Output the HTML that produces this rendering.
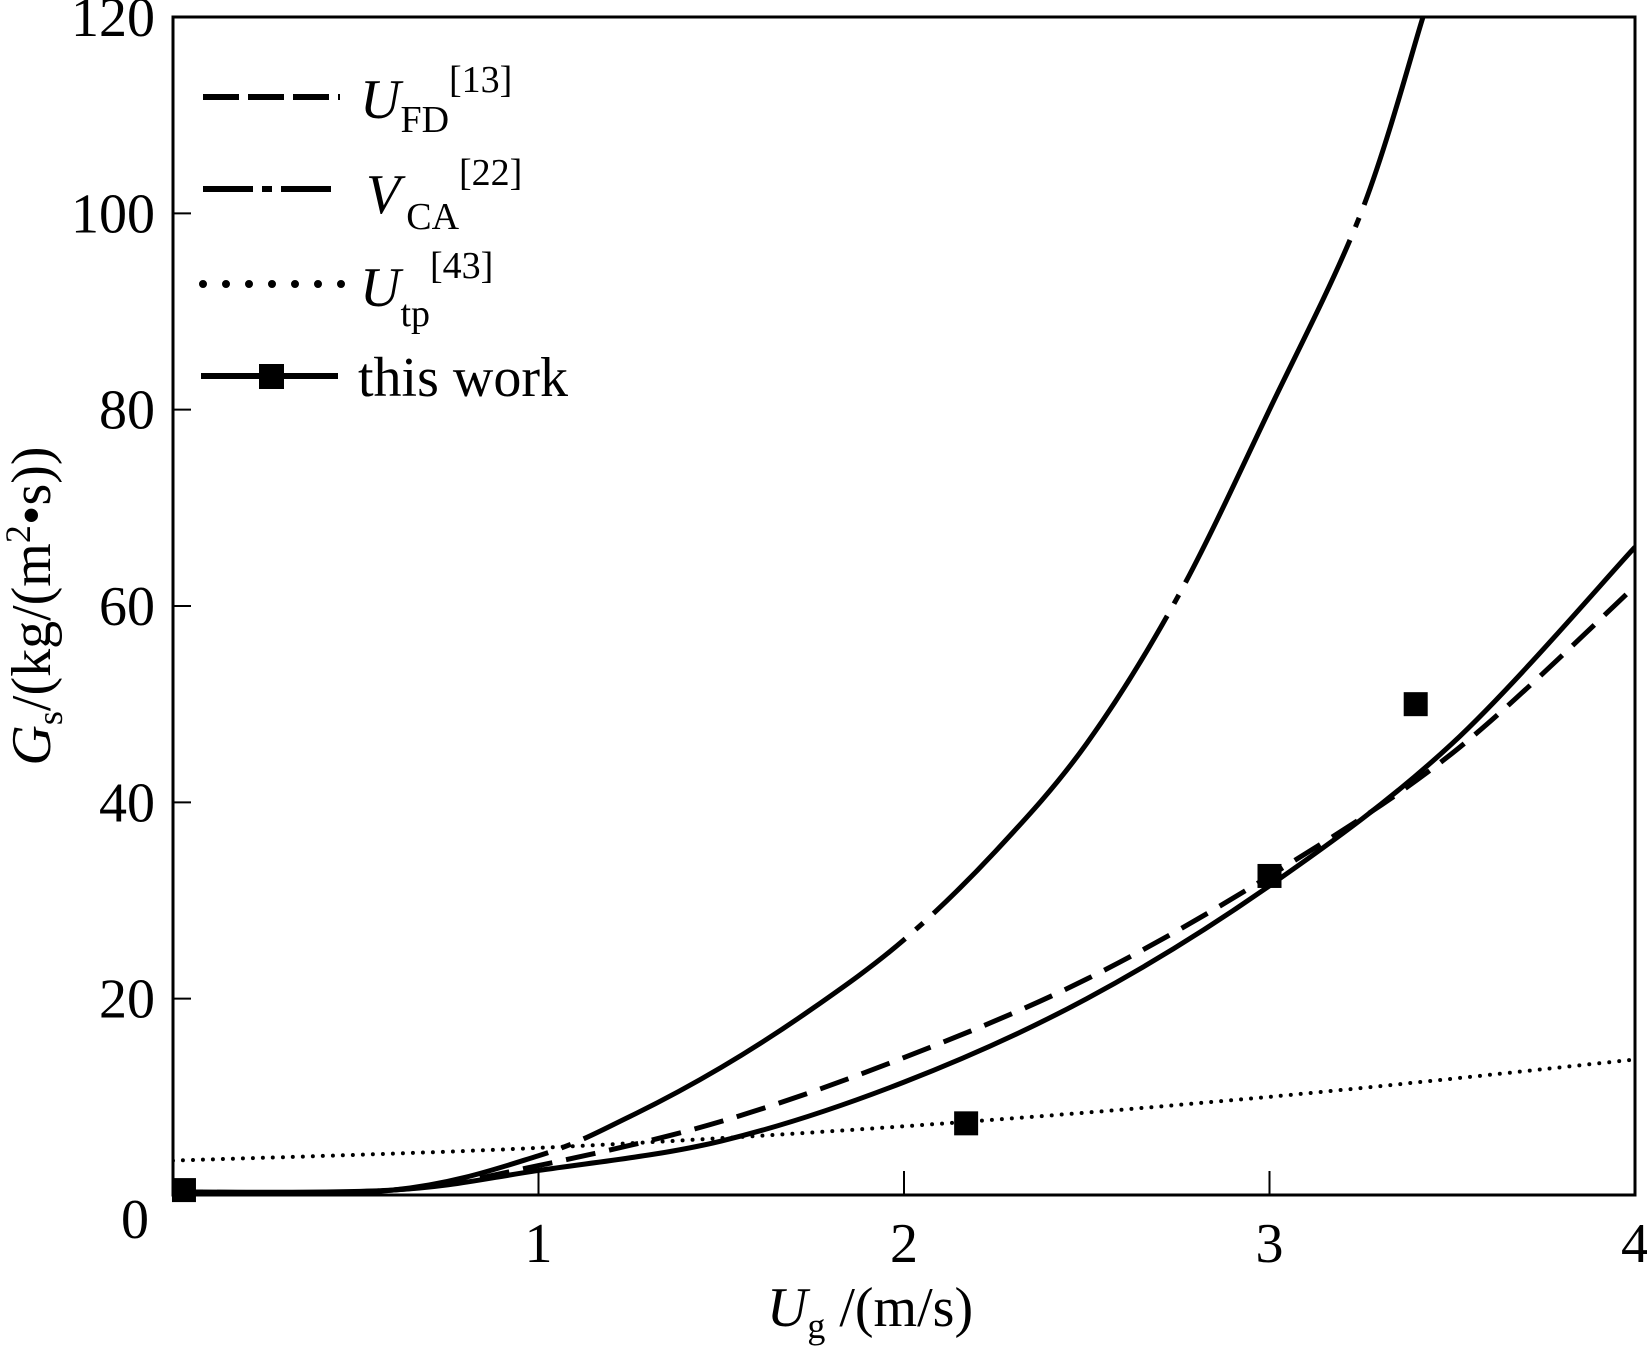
<!DOCTYPE html>
<html><head><meta charset="utf-8"><style>
html,body{margin:0;padding:0;background:#fff;}
svg{display:block;font-family:"Liberation Serif",serif;}
</style></head><body>
<svg id="chart" width="1647" height="1351" viewBox="0 0 1647 1351" xmlns="http://www.w3.org/2000/svg">
<g id="plot"></g>
</svg>
<script>
const xTicks=[0,1,2,3,4];
const yTicks=[0,20,40,60,80,100,120];
const vcaX=[0,0.6,1.0,1.25,1.5,1.75,2.0,2.25,2.5,2.75,3.0,3.25,3.42];
const vcaY=[0.3,0.5,4,8,13,19,26,35,46,61,80,100,120];
const ufdX=[0,0.6,1.0,1.5,2.0,2.5,3.0,3.5,4.0];
const ufdY=[0.3,0.5,3,7.5,14,22,32.5,45,62];
const workX=[0,0.6,1.0,1.5,2.0,2.5,3.0,3.5,4.0];
const workY=[0.3,0.5,2.5,5.5,11.5,20,31.5,46,66];
const tpX=[0,1,2,3,4];
const tpY=[3.5,4.8,7,10,13.8];
const markX=[0.03,2.17,3.0,3.4];
const markY=[0.5,7.3,32.5,50];

const L=173,R=1635,T=17,B=1195;
const sx=v=>L+(v-0)/(4-0)*(R-L);
const sy=v=>B-(v-0)/(120-0)*(B-T);
const NS="http://www.w3.org/2000/svg";
const svg=document.getElementById('chart');
function mk(tag,attrs,parent){const e=document.createElementNS(NS,tag);for(const k in attrs)e.setAttribute(k,attrs[k]);(parent||svg).appendChild(e);return e;}
function pathFrom(xs,ys){
  const p=xs.map((x,i)=>[sx(x),sy(ys[i])]);
  let d=`M${p[0][0]},${p[0][1]}`;
  for(let i=0;i<p.length-1;i++){
    const p0=p[i-1]||p[i],p1=p[i],p2=p[i+1],p3=p[i+2]||p[i+1];
    const c1=[p1[0]+(p2[0]-p0[0])/6,p1[1]+(p2[1]-p0[1])/6];
    const c2=[p2[0]-(p3[0]-p1[0])/6,p2[1]-(p3[1]-p1[1])/6];
    d+=` C${c1[0]},${c1[1]} ${c2[0]},${c2[1]} ${p2[0]},${p2[1]}`;
  }
  return d;
}
const defs=mk('defs',{});
const cp=mk('clipPath',{id:'clip'},defs);
mk('rect',{x:L,y:T,width:R-L,height:B-T},cp);

let e;
e=mk('path',{d:pathFrom(tpX,tpY),fill:'none',stroke:'#000','stroke-width':4,'stroke-dasharray':'0 10','stroke-linecap':'round','clip-path':'url(#clip)'});


e=mk('path',{d:pathFrom(ufdX,ufdY),fill:'none',stroke:'#000','stroke-width':5,'stroke-dasharray':'30 14','clip-path':'url(#clip)'});


e=mk('path',{d:pathFrom(vcaX,vcaY),fill:'none',stroke:'#000','stroke-width':5,'stroke-dasharray':'380 14 10 14','clip-path':'url(#clip)'});


e=mk('path',{d:pathFrom(workX,workY),fill:'none',stroke:'#000','stroke-width':5,'clip-path':'url(#clip)'});


markX.forEach((x,i)=>{
  const m=mk('rect',{x:sx(x)-12,y:sy(markY[i])-12,width:24,height:24,fill:'#000'});
  
  
});

e=mk('rect',{x:L,y:T,width:R-L,height:B-T,fill:'none',stroke:'#000','stroke-width':3});


xTicks.forEach(v=>{
  const t=mk('line',{x1:sx(v),x2:sx(v),y1:B,y2:B-24,stroke:'#000','stroke-width':2});
  
  
  const l=mk('text',{x:v===0?sx(v)-38:sx(v),y:v===0?1238:1262,'text-anchor':'middle','font-size':56});
  l.textContent=v;
  
  
});
yTicks.forEach(v=>{
  if(v>0&&v<120){const t=mk('line',{x1:L,x2:L+18,y1:sy(v),y2:sy(v),stroke:'#000','stroke-width':2});
  
  }
  if(v===0)return;
  const l=mk('text',{x:L-18,y:sy(v)+19,'text-anchor':'end','font-size':56});
  l.textContent=v;
  
  
});
</script>
<svg style="position:absolute;left:0;top:0" width="1647" height="1351" xmlns="http://www.w3.org/2000/svg">
<text x="870" y="1326" text-anchor="middle" font-size="56" font-family="Liberation Serif, serif"><tspan font-style="italic">U</tspan><tspan font-size="36" dy="12">g</tspan><tspan dy="-12"> /(m/s)</tspan></text>
<text transform="translate(50,606) rotate(-90)" text-anchor="middle" font-size="56" font-family="Liberation Serif, serif"><tspan font-style="italic">G</tspan><tspan font-size="36" dy="12">s</tspan><tspan dy="-12">/(kg/(m</tspan><tspan font-size="36" dy="-20">2</tspan><tspan dy="20">•s))</tspan></text>
<g font-family="Liberation Serif, serif">
<line x1="203" y1="97" x2="340" y2="97" stroke="#000" stroke-width="6" stroke-dasharray="36 9"/>
<text x="360" y="118" font-size="56"><tspan font-style="italic">U</tspan><tspan font-size="38" dy="14">FD</tspan><tspan font-size="38" dy="-40">[13]</tspan></text>
<line x1="203" y1="189" x2="340" y2="189" stroke="#000" stroke-width="6" stroke-dasharray="50 9 10 9"/>
<text x="366" y="213" font-size="56"><tspan font-style="italic">V</tspan><tspan font-size="38" dy="16" dx="6">CA</tspan><tspan font-size="38" dy="-44">[22]</tspan></text>
<line x1="203" y1="284" x2="342" y2="284" stroke="#000" stroke-width="8" stroke-dasharray="0 23" stroke-linecap="round"/>
<text x="360" y="306" font-size="56"><tspan font-style="italic">U</tspan><tspan font-size="38" dy="20">tp</tspan><tspan font-size="38" dy="-48">[43]</tspan></text>
<line x1="201" y1="376" x2="338" y2="376" stroke="#000" stroke-width="6"/>
<rect x="259" y="364" width="25" height="25" fill="#000"/>
<text x="358" y="396" font-size="56">this work</text>
</g>
</svg>
</body></html>
